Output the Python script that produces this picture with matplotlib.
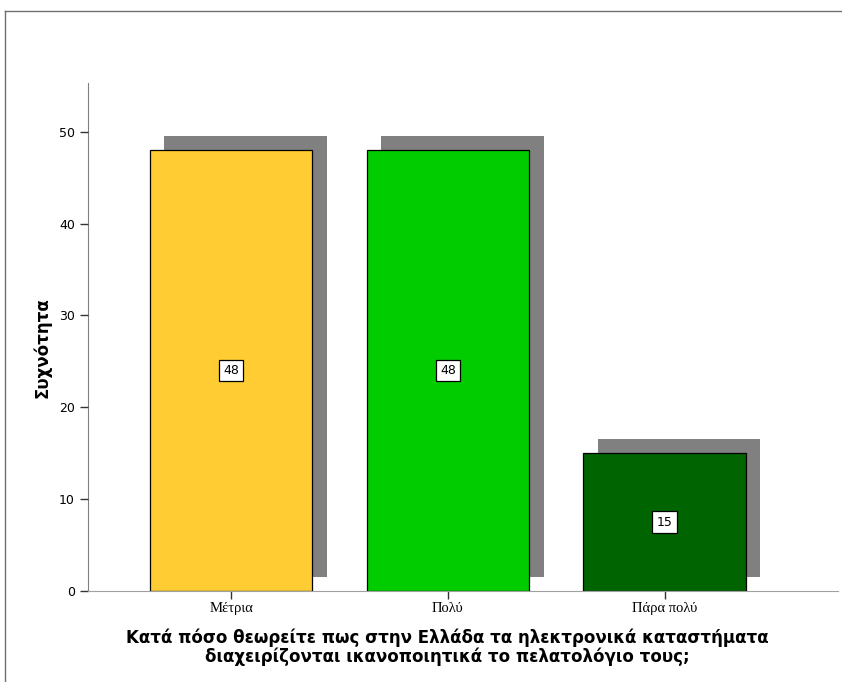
import matplotlib
matplotlib.use("Agg")
import matplotlib.pyplot as plt
import matplotlib.transforms as mtransforms
from matplotlib.lines import Line2D

categories = ["Μέτρια", "Πολύ", "Πάρα πολύ"]
counts = [48, 48, 15]
colors = ["#FFCC33", "#00CC00", "#006400"]
yticks = [0, 10, 20, 30, 40, 50]
ylabel = "Συχνότητα"
xlabel = "Κατά πόσο θεωρείτε πως στην Ελλάδα τα ηλεκτρονικά καταστήματα\nδιαχειρίζονται ικανοποιητικά το πελατολόγιο τους;"

fig = plt.figure(figsize=(8.42, 6.82), dpi=100)
ax = fig.add_axes([88/842, 1-591/682, (838-88)/842, (591-83)/682])

# frame border around the figure
fig.add_artist(Line2D([5/842, 5/842], [0, 1-11/682], transform=fig.transFigure, color="#707070", lw=1))
fig.add_artist(Line2D([5/842, 1], [1-11/682, 1-11/682], transform=fig.transFigure, color="#707070", lw=1))

x = list(range(len(categories)))
width = 0.75
shadow_tr = ax.transData + mtransforms.ScaledTranslation(14.5/100, 14.5/100, fig.dpi_scale_trans)
ax.bar(x, counts, width=width, color="#808080", edgecolor="none", transform=shadow_tr, zorder=1, clip_on=False)
ax.bar(x, counts, width=width, color=colors, edgecolor="#000000", linewidth=0.9, zorder=2)

for xi, c in zip(x, counts):
    ax.text(xi, c/2, str(c), ha="center", va="center", fontsize=9, family="DejaVu Sans",
            bbox=dict(boxstyle="square,pad=0.35", facecolor="white", edgecolor="black", linewidth=0.9), zorder=3)

ax.set_xlim(-0.66, 2.80)
ax.set_ylim(0, 55.3)
ax.set_yticks(yticks)
ax.set_xticks(x)
ax.set_xticklabels(categories, family="Liberation Serif", fontsize=10.5)
ax.tick_params(axis="y", direction="out", length=6, color="#333333", labelsize=9, width=1)
ax.tick_params(axis="x", direction="out", length=6, color="#333333", width=1, pad=2)
for lab in ax.get_yticklabels():
    lab.set_family("DejaVu Sans")

for s in ["top", "right"]:
    ax.spines[s].set_visible(False)
ax.spines["left"].set_color("#808080")
ax.spines["bottom"].set_color("#A0A0A0")
ax.spines["left"].set_zorder(0)

ax.set_ylabel(ylabel, fontsize=12, fontweight="bold", family="DejaVu Sans")
ax.set_xlabel(xlabel, fontsize=12, fontweight="bold", family="DejaVu Sans", linespacing=1.0)
ax.xaxis.set_label_coords((447.5-88)/750, -(647-591)/508, transform=ax.transAxes)
ax.xaxis.label.set_va("center")
ax.yaxis.set_label_coords(-(88-42)/750, (591-348)/508, transform=ax.transAxes)
ax.yaxis.label.set_va("center")

fig.savefig("out.png", dpi=100)
